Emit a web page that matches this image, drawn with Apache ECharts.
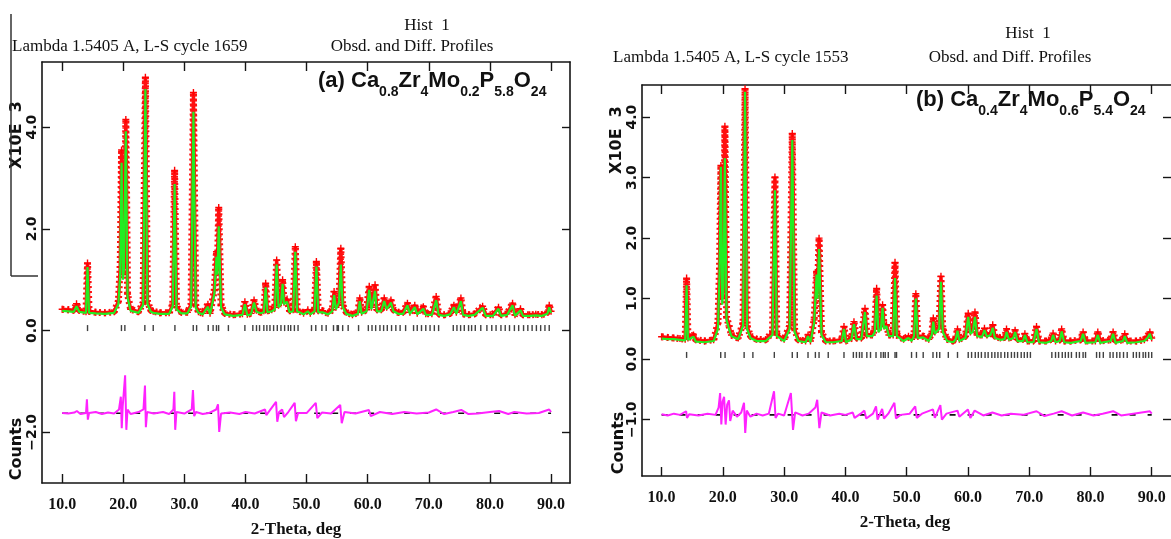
<!DOCTYPE html>
<html><head><meta charset="utf-8">
<script src="https://cdn.jsdelivr.net/npm/echarts@6/dist/echarts.min.js"></script>
<style>html,body{margin:0;padding:0;background:#fff}#c{width:1171px;height:539px}</style>
</head><body><div id="c"></div><script>
// ---------- data (intensities in units of 10^3 counts) ----------
const thetaTicks = [10, 20, 30, 40, 50, 60, 70, 80, 90];
const yTicksA = [-2, 0, 2, 4];
const yTicksB = [-1, 0, 1, 2, 3, 4];

// rows: [2-theta, observed, calculated]
const profileA = [
[10.0,0.42,0.39],[11.0,0.41,0.38],[11.9,0.40,0.37],[12.35,0.53,0.48],[12.8,0.40,0.37],[13.9,0.37,0.35],[14.15,1.33,1.25],[14.4,0.38,0.35],
[15.5,0.36,0.34],[17.0,0.35,0.33],[18.5,0.37,0.35],[19.2,0.58,0.52],[19.5,1.25,1.10],[19.72,3.55,3.30],[19.95,1.10,1.00],[20.1,1.30,1.20],
[20.42,4.15,3.92],[20.7,0.72,0.65],[21.2,0.42,0.39],[22.5,0.37,0.35],[23.25,0.55,0.50],[23.62,4.98,4.75],[23.95,0.58,0.52],[24.5,0.40,0.37],
[24.9,0.38,0.35],[26.0,0.35,0.33],[27.5,0.35,0.33],[28.1,0.52,0.48],[28.4,3.15,2.88],[28.7,0.47,0.42],[29.5,0.36,0.34],[30.5,0.36,0.34],
[31.1,0.52,0.48],[31.48,4.68,4.30],[31.85,0.50,0.45],[32.3,0.37,0.35],[33.0,0.34,0.32],[33.85,0.52,0.47],[34.2,0.34,0.32],[34.9,0.80,0.72],
[35.25,1.55,1.45],[35.4,1.20,1.10],[35.62,2.42,2.05],[36.0,0.50,0.45],[36.6,0.34,0.32],[38.0,0.31,0.29],[39.5,0.33,0.31],[39.9,0.57,0.52],
[40.3,0.32,0.30],[40.9,0.34,0.32],[41.4,0.60,0.55],[41.8,0.40,0.37],[42.5,0.36,0.34],[43.0,0.39,0.36],[43.3,0.93,0.85],[43.6,0.39,0.36],
[44.3,0.41,0.38],[44.8,0.46,0.42],[45.1,1.39,1.30],[45.4,0.50,0.46],[45.8,0.56,0.52],[46.07,1.00,0.92],[46.3,0.56,0.52],[46.8,0.62,0.57],
[47.2,0.39,0.36],[47.8,0.41,0.38],[48.15,1.65,1.55],[48.45,0.41,0.38],[49.5,0.34,0.32],[50.2,0.41,0.38],[50.6,0.34,0.32],[51.3,0.41,0.38],
[51.6,1.36,1.26],[51.9,0.39,0.36],[52.6,0.39,0.36],[53.5,0.34,0.32],[54.2,0.41,0.38],[54.5,0.77,0.70],[54.8,0.46,0.42],[55.3,0.60,0.55],
[55.6,1.62,1.30],[55.9,0.50,0.46],[56.5,0.36,0.33],[57.5,0.31,0.29],[58.4,0.36,0.33],[58.7,0.64,0.58],[59.0,0.36,0.33],[59.8,0.41,0.38],
[60.25,0.87,0.80],[60.6,0.46,0.42],[61.2,0.90,0.78],[61.5,0.41,0.38],[62.2,0.41,0.38],[62.7,0.64,0.58],[63.1,0.46,0.42],[63.8,0.60,0.55],
[64.2,0.41,0.38],[65.0,0.36,0.33],[65.8,0.36,0.33],[66.5,0.54,0.50],[66.9,0.36,0.33],[67.7,0.50,0.46],[68.1,0.34,0.32],[69.1,0.47,0.43],
[69.5,0.33,0.31],[70.5,0.33,0.31],[71.2,0.67,0.60],[71.6,0.33,0.31],[72.5,0.31,0.29],[73.5,0.34,0.32],[74.1,0.50,0.46],[74.5,0.36,0.33],
[75.25,0.64,0.58],[75.6,0.33,0.31],[76.5,0.31,0.29],[77.5,0.33,0.31],[78.8,0.48,0.45],[79.3,0.31,0.29],[80.5,0.31,0.29],[81.4,0.46,0.43],
[81.8,0.31,0.29],[82.8,0.33,0.31],[83.7,0.54,0.50],[84.1,0.31,0.29],[85.0,0.43,0.40],[85.4,0.31,0.29],[86.5,0.31,0.29],[87.5,0.32,0.30],
[88.5,0.31,0.29],[89.4,0.36,0.33],[89.7,0.50,0.46],[90.0,0.38,0.35]
];
const profileB = [
[10.0,0.37,0.34],[11.0,0.36,0.33],[12.0,0.35,0.33],[13.0,0.34,0.32],[13.85,0.33,0.31],[14.08,1.34,1.22],[14.3,0.35,0.32],[15.2,0.40,0.37],
[15.6,0.32,0.29],[17.0,0.30,0.28],[18.5,0.32,0.30],[19.2,0.60,0.50],[19.45,1.50,1.40],[19.68,3.20,3.18],[19.9,1.00,0.90],[20.1,1.30,1.20],
[20.33,3.85,3.32],[20.6,0.70,0.65],[21.0,0.55,0.50],[21.4,0.40,0.38],[22.5,0.35,0.33],[23.3,0.60,0.55],[23.62,4.47,4.42],[23.95,0.55,0.50],
[24.5,0.38,0.35],[25.5,0.33,0.30],[27.0,0.32,0.30],[28.1,0.45,0.40],[28.5,3.01,2.79],[28.8,0.40,0.38],[30.0,0.33,0.30],[30.9,0.55,0.50],
[31.33,3.73,3.62],[31.7,0.50,0.45],[32.3,0.32,0.30],[33.5,0.30,0.28],[33.9,0.40,0.38],[34.3,0.30,0.28],[34.9,0.65,0.60],[35.3,1.45,1.40],
[35.45,1.10,1.00],[35.7,2.00,1.82],[36.1,0.45,0.40],[36.8,0.30,0.28],[38.0,0.30,0.28],[39.4,0.32,0.30],[39.77,0.54,0.50],[40.1,0.30,0.28],
[41.0,0.35,0.33],[41.4,0.62,0.58],[41.8,0.35,0.33],[42.6,0.35,0.33],[43.2,0.84,0.78],[43.5,0.40,0.38],[44.4,0.40,0.38],[44.8,0.50,0.45],
[45.1,1.17,1.05],[45.4,0.50,0.45],[45.8,0.55,0.50],[46.07,0.90,0.85],[46.3,0.55,0.50],[46.7,0.57,0.55],[47.1,0.40,0.38],[47.8,0.40,0.38],
[48.1,1.60,1.34],[48.4,0.40,0.38],[49.5,0.33,0.30],[50.3,0.38,0.35],[50.8,0.33,0.30],[51.2,0.40,0.38],[51.5,1.08,1.00],[51.8,0.38,0.35],
[52.7,0.38,0.36],[53.6,0.33,0.30],[54.1,0.42,0.40],[54.35,0.68,0.62],[54.6,0.45,0.42],[55.3,0.55,0.50],[55.6,1.37,1.28],[55.9,0.50,0.45],
[56.6,0.33,0.30],[57.6,0.30,0.28],[58.0,0.35,0.33],[58.3,0.50,0.47],[58.6,0.33,0.30],[59.6,0.38,0.35],[60.05,0.76,0.70],[60.4,0.45,0.42],
[60.8,0.50,0.45],[61.15,0.78,0.70],[61.5,0.40,0.38],[62.3,0.40,0.37],[62.7,0.51,0.48],[63.1,0.40,0.37],[63.7,0.42,0.40],[64.05,0.57,0.52],
[64.4,0.38,0.35],[65.3,0.35,0.32],[66.0,0.36,0.33],[66.3,0.50,0.45],[66.7,0.35,0.32],[67.4,0.38,0.35],[67.7,0.48,0.45],[68.1,0.33,0.30],
[69.0,0.33,0.30],[69.3,0.42,0.40],[69.7,0.30,0.28],[70.7,0.30,0.28],[71.2,0.54,0.50],[71.6,0.30,0.28],[72.8,0.30,0.27],[73.6,0.33,0.30],
[73.9,0.43,0.40],[74.3,0.30,0.28],[75.0,0.32,0.30],[75.3,0.50,0.46],[75.7,0.30,0.28],[76.8,0.30,0.27],[78.4,0.32,0.30],[78.8,0.45,0.42],
[79.2,0.30,0.27],[80.8,0.30,0.28],[81.2,0.45,0.40],[81.6,0.30,0.27],[83.3,0.32,0.30],[83.7,0.45,0.42],[84.1,0.30,0.27],[85.3,0.32,0.30],
[85.6,0.42,0.38],[86.0,0.30,0.27],[87.5,0.30,0.28],[88.8,0.32,0.30],[89.3,0.38,0.35],[89.7,0.45,0.42],[90.0,0.35,0.32]
];
// difference curves (obs - calc, plotted with offset)
const diffA = [
[10,-1.62],[11,-1.63],[12,-1.61],[12.4,-1.58],[13,-1.64],[13.9,-1.62],[14.05,-1.35],[14.2,-1.75],[14.4,-1.62],[15.5,-1.60],[16.5,-1.64],
[17.5,-1.61],[18.5,-1.63],[19.3,-1.55],[19.6,-1.30],[19.75,-1.92],[19.9,-1.50],[20.3,-0.88],[20.5,-1.95],[20.7,-1.55],[21.2,-1.64],
[22.5,-1.60],[23.3,-1.55],[23.55,-1.08],[23.7,-1.90],[23.9,-1.60],[25,-1.63],[26.5,-1.60],[27.5,-1.64],[28.2,-1.55],[28.35,-1.20],
[28.5,-1.95],[28.7,-1.60],[30,-1.63],[31.2,-1.55],[31.4,-1.17],[31.6,-1.68],[31.9,-1.60],[33,-1.64],[34,-1.62],[35.2,-1.55],[35.5,-1.45],
[35.7,-1.99],[36,-1.63],[37.5,-1.61],[39,-1.64],[40,-1.60],[41.5,-1.63],[43.2,-1.55],[43.4,-1.66],[45.0,-1.40],[45.2,-1.79],[45.5,-1.60],
[46.0,-1.55],[46.3,-1.70],[47,-1.60],[48.05,-1.42],[48.25,-1.78],[48.6,-1.62],[50,-1.62],[51.5,-1.42],[51.75,-1.72],[52.5,-1.61],[54,-1.63],
[55.5,-1.46],[55.75,-1.82],[56.2,-1.60],[58,-1.63],[60.2,-1.56],[60.5,-1.68],[62,-1.60],[64,-1.64],[66,-1.60],[68,-1.63],[70,-1.61],
[71.2,-1.55],[72.5,-1.64],[74,-1.60],[75.3,-1.56],[76.5,-1.64],[78,-1.63],[80,-1.60],[81.5,-1.58],[83,-1.64],[84,-1.60],[86,-1.63],
[88,-1.62],[89.7,-1.55],[90,-1.60]
];
const diffB = [
[10,-0.91],[11,-0.93],[12,-0.90],[13,-0.92],[14.0,-0.86],[14.15,-0.97],[14.5,-0.91],[16,-0.93],[17.5,-0.90],[18.8,-0.92],[19.3,-0.80],
[19.55,-0.56],[19.75,-1.08],[19.95,-0.70],[20.2,-0.62],[20.45,-1.08],[20.7,-0.75],[21.0,-0.68],[21.2,-1.02],[21.6,-0.85],[22.3,-0.95],
[23.0,-0.88],[23.45,-0.72],[23.65,-1.22],[23.9,-0.85],[24.5,-0.95],[25.5,-0.90],[26.5,-0.93],[27.5,-0.90],[28.35,-0.53],[28.6,-0.97],
[29,-0.90],[30,-0.93],[31.1,-0.56],[31.45,-1.17],[31.8,-0.88],[33,-0.93],[34,-0.90],[35.1,-0.80],[35.4,-0.67],[35.75,-1.14],[36.1,-0.88],
[37.5,-0.93],[39,-0.90],[40,-0.92],[41.2,-0.88],[41.5,-0.97],[42.5,-0.90],[43.1,-0.85],[43.4,-0.98],[44.5,-0.90],[45.0,-0.78],[45.25,-1.00],
[46.0,-0.82],[46.3,-0.98],[47.0,-0.90],[48.0,-0.72],[48.25,-0.98],[49,-0.92],[50.5,-0.90],[51.4,-0.78],[51.65,-0.97],[52.5,-0.90],
[54.3,-0.83],[54.6,-0.97],[55.5,-0.76],[55.75,-1.00],[56.5,-0.90],[58.3,-0.85],[58.6,-0.95],[60.0,-0.83],[60.4,-0.97],[61.1,-0.85],
[62.5,-0.93],[64,-0.88],[65.5,-0.93],[67,-0.90],[69,-0.92],[71.2,-0.86],[72.5,-0.94],[74,-0.90],[75.3,-0.86],[77,-0.93],[78.8,-0.88],
[80.5,-0.93],[82,-0.90],[83.7,-0.86],[85,-0.93],[87,-0.90],[89.7,-0.86],[90,-0.90]
];
const diffZeroA = -1.625;
const diffZeroB = -0.92;
// reflection (hkl) marker positions, 2-theta
const reflA = [14.15,19.7,20.26,23.53,24.9,28.45,31.45,32.0,33.9,34.7,35.25,35.6,37.2,39.9,41.2,41.8,42.3,43.0,43.5,44.0,44.6,45.2,45.8,
46.4,47.0,47.4,48.0,48.6,50.8,51.5,52.5,53.2,54.4,55.0,55.2,55.9,56.8,58.5,60.1,60.7,61.3,62.0,62.6,63.2,63.9,64.6,65.3,66.2,67.5,68.1,
68.8,69.5,70.2,70.9,71.6,74.0,74.6,75.2,75.8,76.5,77.0,77.6,78.5,79.5,80.3,81.0,81.8,82.5,83.2,84.0,84.7,85.5,86.2,86.9,87.6,88.3,89.0,89.7];
const reflB = [14.08,19.65,20.36,23.47,24.9,28.4,31.33,32.15,33.9,35.1,35.7,37.2,39.77,41.3,41.8,42.3,42.7,43.5,44.1,45.0,45.8,46.2,46.5,
47.0,48.1,48.35,50.8,51.6,52.7,54.3,54.9,55.4,56.8,58.3,60.05,60.6,61.2,61.7,62.2,62.8,63.3,63.9,64.4,64.9,65.4,66.0,66.5,67.1,67.6,68.1,
68.7,69.2,69.7,70.2,73.7,74.3,74.8,75.4,75.9,76.4,76.9,77.7,78.2,78.8,79.2,81.0,81.5,82.1,83.2,83.7,84.3,84.8,85.4,86.0,87.0,87.5,88.0,
88.6,89.0,89.5,90.0];
const reflLevelA = 0.05;
const reflLevelB = 0.07;

// ---------- chart ----------
const AX = '#151515';
const PLUS = 'path://M2,0H3V2H5V3H3V5H2V3H0V2H2Z';
const fmt = v => (v < 0 ? '\u2212' : '') + Math.abs(v).toFixed(1);

function xAx(grid, pos, min, max, margin) {
  return {
    type: 'value', gridIndex: grid, position: pos, min: min, max: max,
    axisLine: { show: true, onZero: false, lineStyle: { color: AX, width: 1.6 } },
    axisTick: { show: true, inside: true, length: 9, customValues: thetaTicks, lineStyle: { color: AX, width: 1.4 } },
    axisLabel: pos === 'bottom' ? { show: true, customValues: thetaTicks, formatter: fmt, margin: margin,
      fontFamily: 'Liberation Serif', fontWeight: 'bold', fontSize: 16, color: '#111' } : { show: false },
    splitLine: { show: false }
  };
}
function yAx(grid, pos, min, max, ticks, showLine) {
  return {
    type: 'value', gridIndex: grid, position: pos, min: min, max: max,
    axisLine: { show: showLine, onZero: false, lineStyle: { color: AX, width: 1.6 } },
    axisTick: { show: true, inside: true, length: 8, customValues: ticks, lineStyle: { color: AX, width: 1.4 } },
    axisLabel: pos === 'left' ? { show: true, customValues: ticks, formatter: fmt, rotate: 90, margin: 3,
      fontFamily: 'DejaVu Sans', fontWeight: 'bold', fontSize: 14, color: '#111' } : { show: false },
    splitLine: { show: false }
  };
}
function panelSeries(xi, yi, profile, diff, zero, refl, level) {
  const obs = profile.map(r => [r[0], r[1]]);
  return [
    { type: 'line', xAxisIndex: xi, yAxisIndex: yi, data: obs,
      lineStyle: { color: '#ff1010', width: 3.5 }, showSymbol: false, z: 2, silent: true },
    { type: 'line', xAxisIndex: xi, yAxisIndex: yi, data: obs,
      lineStyle: { color: '#ff1010', width: 7, type: [2, 3] }, symbol: PLUS, symbolSize: 7, showSymbol: true,
      itemStyle: { color: '#ff0000' }, z: 2, silent: true },
    { type: 'line', xAxisIndex: xi, yAxisIndex: yi, data: profile.map(r => [r[0], r[2]]),
      lineStyle: { color: '#22ee22', width: 2.2 }, showSymbol: false, z: 3, silent: true },
    { type: 'scatter', xAxisIndex: xi, yAxisIndex: yi, data: refl.map(t => [t, level]),
      symbol: 'rect', symbolSize: [1.4, 6], itemStyle: { color: '#111' }, z: 4, silent: true },
    { type: 'line', xAxisIndex: xi, yAxisIndex: yi, data: [[10, zero], [90, zero]],
      lineStyle: { color: '#111', width: 1.6, type: [6, 12] }, showSymbol: false, z: 2, silent: true },
    { type: 'line', xAxisIndex: xi, yAxisIndex: yi, data: diff,
      lineStyle: { color: '#ff22ff', width: 2 }, showSymbol: false, z: 3, silent: true }
  ];
}
function txt(x, y, s, font, align, extra) {
  return Object.assign({ type: 'text', x: x, y: y, silent: true,
    style: { text: s, font: font, fill: '#111', align: align || 'left', verticalAlign: 'middle' } }, extra || {});
}
function formula(x, y, label, parts) {
  let t = '{m|' + label + ' }';
  parts.forEach(p => { t += '{m|' + p[0] + '}' + (p[1] ? '{s|' + p[1] + '}' : ''); });
  return { type: 'text', x: x, y: y, silent: true,
    style: { text: t, verticalAlign: 'top', align: 'left',
      rich: { m: { fontFamily: 'Liberation Sans', fontWeight: 'bold', fontSize: 22, lineHeight: 24, verticalAlign: 'top', fill: '#111' },
              s: { fontFamily: 'Liberation Sans', fontWeight: 'bold', fontSize: 14, lineHeight: 29, verticalAlign: 'bottom', fill: '#111' } } } };
}
const serif = '17px "Liberation Serif"';
const sansB = 'bold 16px "DejaVu Sans"';

const option = {
  animation: false,
  backgroundColor: '#ffffff',
  grid: [
    { left: 42, top: 62, width: 528, height: 421 },
    { left: 642, top: 85, width: 529, height: 391 }
  ],
  xAxis: [ xAx(0, 'bottom', 6.7, 93.1, 14), xAx(0, 'top', 6.7, 93.1), xAx(1, 'bottom', 6.8, 93.15, 14), xAx(1, 'top', 6.8, 93.15) ],
  yAxis: [ yAx(0, 'left', -2.995, 5.28, yTicksA, true), yAx(0, 'right', -2.995, 5.28, yTicksA, true),
           yAx(1, 'left', -1.93, 4.53, yTicksB, true), yAx(1, 'right', -1.93, 4.53, yTicksB, false) ],
  series: [].concat(
    panelSeries(0, 0, profileA, diffA, diffZeroA, reflA, reflLevelA),
    panelSeries(2, 2, profileB, diffB, diffZeroB, reflB, reflLevelB)
  ),
  graphic: [
    // panel (a)
    txt(427, 26, 'Hist  1', serif, 'center'),
    txt(12, 47, 'Lambda 1.5405 A, L-S cycle 1659', serif, 'left'),
    txt(412, 47, 'Obsd. and Diff. Profiles', serif, 'center'),
    txt(17, 135, 'X10E  3', sansB, 'center', { rotation: Math.PI / 2 }),
    txt(17, 449, 'Counts', sansB, 'center', { rotation: Math.PI / 2 }),
    txt(296, 530, '2-Theta, deg', 'bold 17px "Liberation Serif"', 'center'),
    formula(318, 70, '(a)', [['Ca', '0.8'], ['Zr', '4'], ['Mo', '0.2'], ['P', '5.8'], ['O', '24']]),
    { type: 'line', silent: true, shape: { x1: 11, y1: 14, x2: 11, y2: 276 }, style: { stroke: '#333', lineWidth: 1.5 } },
    { type: 'line', silent: true, shape: { x1: 11, y1: 276, x2: 38, y2: 276 }, style: { stroke: '#333', lineWidth: 1.5 } },
    // panel (b)
    txt(1028, 34, 'Hist  1', serif, 'center'),
    txt(613, 58, 'Lambda 1.5405 A, L-S cycle 1553', serif, 'left'),
    txt(1010, 58, 'Obsd. and Diff. Profiles', serif, 'center'),
    txt(617, 140, 'X10E  3', sansB, 'center', { rotation: Math.PI / 2 }),
    txt(619, 443, 'Counts', sansB, 'center', { rotation: Math.PI / 2 }),
    txt(905, 523, '2-Theta, deg', 'bold 17px "Liberation Serif"', 'center'),
    formula(916, 89, '(b)', [['Ca', '0.4'], ['Zr', '4'], ['Mo', '0.6'], ['P', '5.4'], ['O', '24']])
  ]
};
const chart = echarts.init(document.getElementById('c'), null, { renderer: 'canvas' });
chart.setOption(option);
</script></body></html>
